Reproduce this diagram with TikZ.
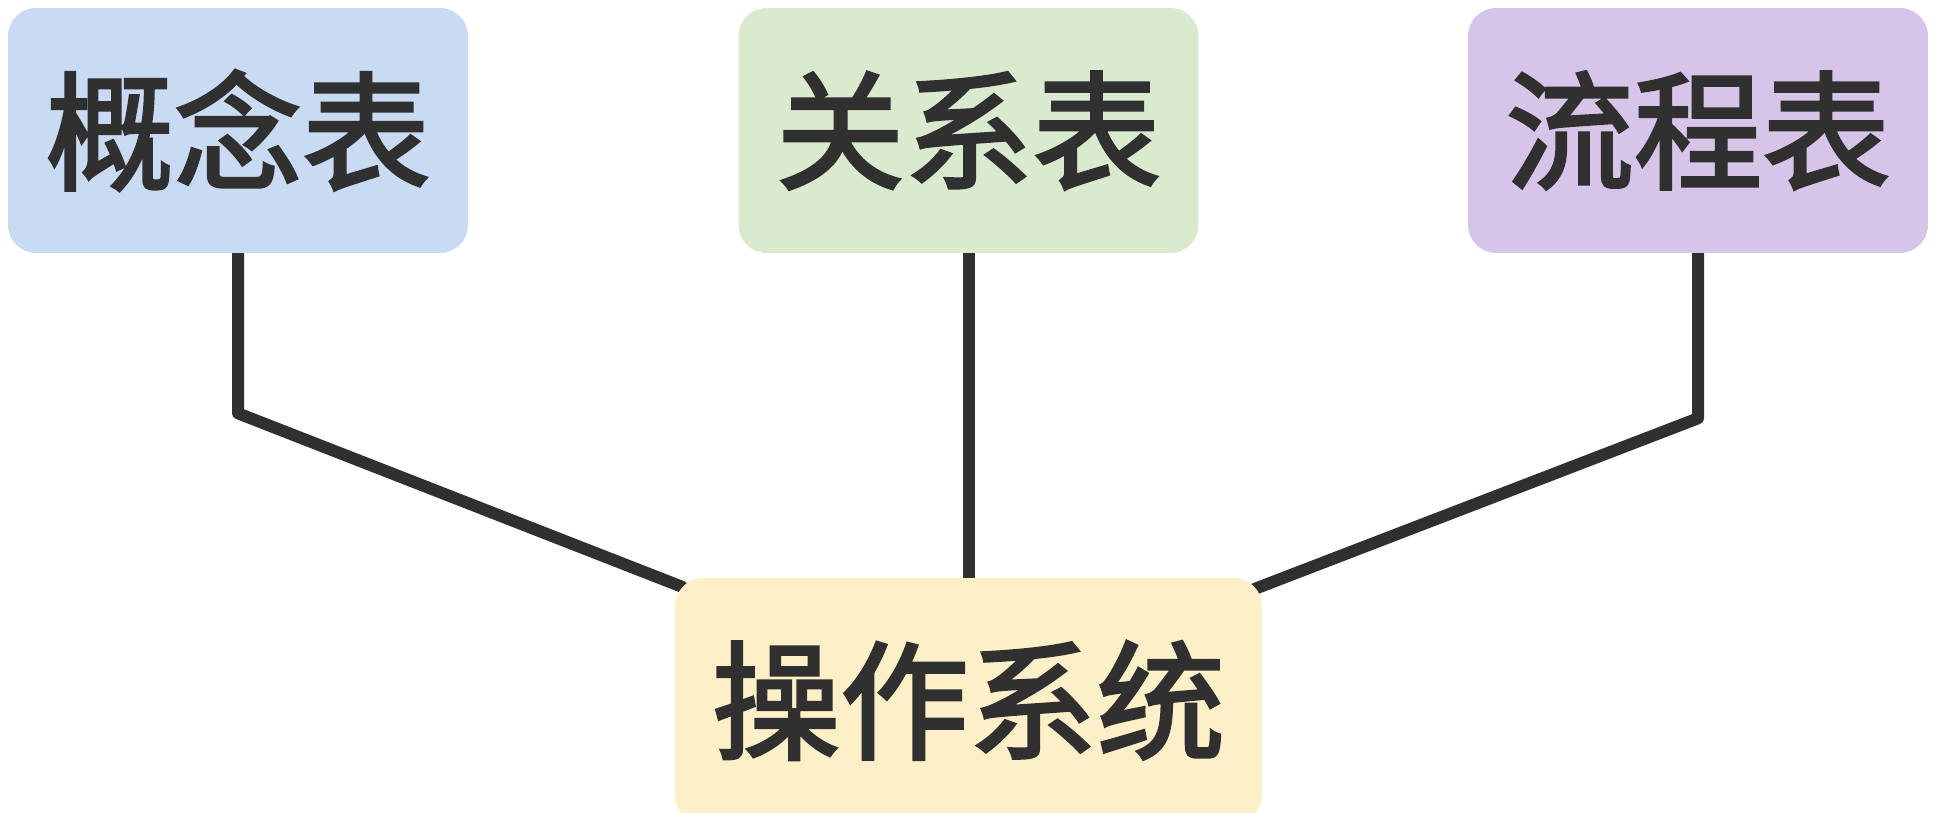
\documentclass[tikz,border=0pt]{standalone}
\usepackage{fontspec}
\usepackage{xcolor}
\usetikzlibrary{backgrounds}
\newfontfamily\cjkfont[FakeBold=2.4]{Noto Sans CJK SC}
\definecolor{conceptblue}{RGB}{201,218,243}
\definecolor{relationgreen}{RGB}{217,234,206}
\definecolor{flowpurple}{RGB}{215,197,233}
\definecolor{osyellow}{RGB}{253,240,200}
\definecolor{linkgray}{RGB}{48,48,48}

\begin{document}
\begin{tikzpicture}[x=0.02cm,y=-0.02cm,
  tablebox/.style={rounded corners=0.56cm, minimum width=9.2cm, minimum height=4.9cm,
    inner sep=0pt, text=linkgray, font=\cjkfont\fontsize{73}{80}\selectfont},
  link/.style={draw=linkgray, line width=0.24cm, line cap=round, line join=round}]
  \useasboundingbox (0,0) rectangle (1935,813);
  % Tables on top
  \node[tablebox, fill=conceptblue] (concept) at (238,130.5) {概念表};
  \node[tablebox, fill=relationgreen] (relation) at (968.5,130.5) {关系表};
  \node[tablebox, fill=flowpurple] (flow) at (1698,130.5) {流程表};
  % Operating system at the bottom
  \node[tablebox, fill=osyellow, minimum width=11.74cm] (os) at (968.5,700.5) {操作系统};

  % Links
  \begin{scope}[on background layer]
    \draw[link] (concept.south) -- ++(0,160) -- ([shift={(7,9)}]os.north west);
    \draw[link] (relation.south) -- (os.north);
    \draw[link] (flow.south) -- ++(0,165) -- ([shift={(-7,11)}]os.north east);
  \end{scope}
\end{tikzpicture}
\end{document}
